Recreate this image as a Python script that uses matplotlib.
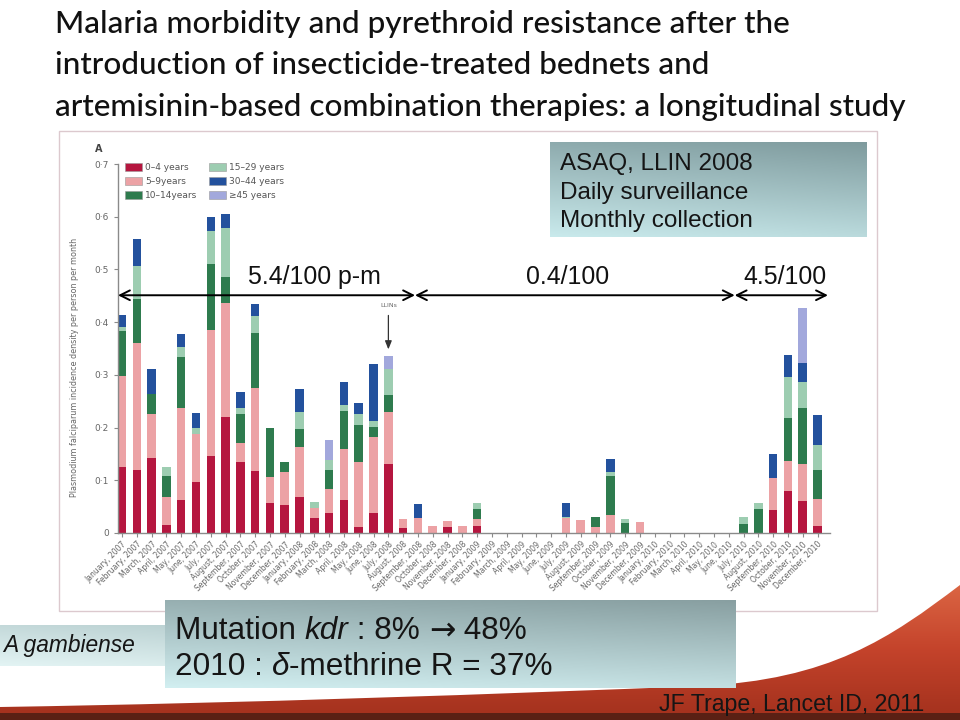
import numpy as np
import matplotlib
matplotlib.use("Agg")
import matplotlib.pyplot as plt
from matplotlib.colors import LinearSegmentedColormap
from matplotlib.patches import Rectangle, PathPatch
from matplotlib.path import Path

# ---------------- data ----------------
months = ["January", "February", "March", "April", "May", "June", "July",
          "August", "September", "October", "November", "December"]
years = [2007, 2008, 2009, 2010]
month_labels = [f"{m}, {y}" for y in years for m in months]

age_groups = ["0\u20134 years", "5\u20139years", "10\u201314years",
              "15\u201329 years", "30\u201344 years", "\u226545 years"]

age0_4 = [.125, .119, .142, .015, .062, .097, .147, .221, .135, .118, .057, .054,
          .068, .028, .038, .062, .012, .037, .131, .010, 0, 0, .011, 0,
          .013, 0, 0, 0, 0, 0, 0, 0, 0, 0, 0, 0,
          0, 0, 0, 0, 0, 0, 0, 0, .044, .080, .061, .013]
age5_9 = [.173, .242, .084, .053, .176, .091, .239, .215, .035, .158, .049, .062,
          .095, .019, .046, .098, .123, .146, .098, .016, .029, .014, .012, .014,
          .013, 0, 0, 0, 0, 0, .028, .025, .012, .035, 0, .020,
          0, 0, 0, 0, 0, 0, 0, 0, .061, .056, .069, .052]
age10_14 = [.086, .082, .038, .040, .095, 0, .125, .049, .056, .103, .093, .019,
            .035, 0, .036, .072, .069, .018, .033, 0, 0, 0, 0, 0,
            .019, 0, 0, 0, 0, 0, 0, 0, .019, .074, .019, 0,
            0, 0, 0, 0, 0, 0, .018, .045, 0, .082, .108, .054]
age15_29 = [.006, .063, 0, .017, .019, .012, .061, .093, .012, .032, 0, 0,
            .031, .012, .019, .011, .022, .012, .049, 0, 0, 0, 0, 0,
            .011, 0, 0, 0, 0, 0, .003, 0, 0, .007, .008, 0,
            0, 0, 0, 0, 0, 0, .012, .011, 0, .077, .048, .047]
age30_44 = [.023, .052, .048, 0, .025, .028, .027, .027, .029, .024, 0, 0,
            .044, 0, 0, .044, .020, .108, 0, 0, .026, 0, 0, 0,
            0, 0, 0, 0, 0, 0, .025, 0, 0, .025, 0, 0,
            0, 0, 0, 0, 0, 0, 0, 0, .044, .043, .037, .057]
age45 = [0, 0, 0, 0, 0, 0, 0, 0, 0, 0, 0, 0,
         0, 0, .038, 0, 0, 0, .025, 0, 0, 0, 0, 0,
         0, 0, 0, 0, 0, 0, 0, 0, 0, 0, 0, 0,
         0, 0, 0, 0, 0, 0, 0, 0, 0, 0, .103, 0]

series = [age0_4, age5_9, age10_14, age15_29, age30_44, age45]
colors = ["#b5163f", "#eca2a5", "#2e7b4e", "#9dcdb1", "#23519d", "#a2a8dc"]

yticks = [0, 0.1, 0.2, 0.3, 0.4, 0.5, 0.6, 0.7]
ytick_labels = ["0", "0\u00b71", "0\u00b72", "0\u00b73", "0\u00b74", "0\u00b75", "0\u00b76", "0\u00b77"]

period_labels = ["5.4/100 p-m", "0.4/100", "4.5/100"]
period_start = [-0.27, 19.8, 41.4]
period_end = [19.8, 41.4, 47.7]
period_label_x = [13.0, 30.1, 44.8]
llin_month = 18  # July 2008

# ---------------- figure ----------------
W, H = 960, 720
fig = plt.figure(figsize=(9.6, 7.2), dpi=100)
renderer = fig.canvas.get_renderer()
ARIAL = ["Liberation Sans", "DejaVu Sans"]
TITLEF = ["Lato", "Liberation Sans", "DejaVu Sans"]


def fit(t, target):
    w = t.get_window_extent(renderer).width
    t.set_fontsize(t.get_fontsize() * target / w)
    return t.get_fontsize()


bg = fig.add_axes([0, 0, 1, 1], zorder=0)
bg.set_xlim(0, W)
bg.set_ylim(H, 0)
bg.axis("off")

# red swoosh at the bottom
verts = [(0, 707), (250, 703), (500, 694), (700, 686),
         (830, 680), (890, 638), (960, 585),
         (960, 720), (0, 720), (0, 707)]
codes = [Path.MOVETO, Path.CURVE4, Path.CURVE4, Path.CURVE4,
         Path.CURVE4, Path.CURVE4, Path.CURVE4,
         Path.LINETO, Path.LINETO, Path.CLOSEPOLY]
sw = PathPatch(Path(verts, codes), facecolor="none", edgecolor="none")
bg.add_patch(sw)
red_cmap = LinearSegmentedColormap.from_list("r", ["#db6543", "#c4432b", "#a5321e"])
im = bg.imshow(np.linspace(0, 1, 256)[:, None], cmap=red_cmap, aspect="auto",
               extent=[0, W, 714, 585], zorder=1)
im.set_clip_path(sw)
bg.add_patch(Rectangle((0, 713), W, 7, facecolor="#5a2014", edgecolor="none", zorder=2))

# chart panel
bg.add_patch(Rectangle((58.5, 131), 818.5, 480, facecolor="white", edgecolor="#dcc9ce", lw=1.0, zorder=1))

# title
title_lines = ["Malaria morbidity and pyrethroid resistance after the",
               "introduction of insecticide-treated bednets and",
               "artemisinin-based combination therapies: a longitudinal study"]
tt = []
for i, line in enumerate(title_lines):
    tt.append(bg.text(55, 33 + i * 41.5, line, fontsize=21, family=TITLEF, fontweight="medium",
                      color="#111111", va="baseline", ha="left", zorder=3))
fs = fit(tt[0], 735)
for t in tt:
    t.set_fontsize(fs)

# ---------------- chart ----------------
ax = fig.add_axes([118 / W, 1 - 533 / H, (830 - 118) / W, (533 - 164) / H], zorder=2)
ax.patch.set_alpha(0)
x = np.arange(len(month_labels))
bottom = np.zeros(len(x))
for name, vals, c in zip(age_groups, series, colors):
    v = np.array(vals)
    ax.bar(x, v, bottom=bottom, width=0.58, color=c, label=name, zorder=2)
    bottom += v

ax.set_xlim(-0.27, 47.84)
ax.set_ylim(0, 0.7)
ax.set_yticks(yticks)
ax.set_yticklabels(ytick_labels, fontsize=6.5, color="#666666")
ax.set_xticks(x)
ax.set_xticklabels(month_labels, rotation=45, ha="right", rotation_mode="anchor",
                   fontsize=5.5, color="#666666")
for s in ["top", "right"]:
    ax.spines[s].set_visible(False)
for s in ["left", "bottom"]:
    ax.spines[s].set_color("#8a8a8a")
    ax.spines[s].set_linewidth(1.0)
ax.tick_params(axis="both", colors="#8a8a8a", length=3, width=0.8, labelcolor="#666666")
ax.tick_params(axis="x", pad=2)
ax.set_ylabel("Plasmodium falciparum incidence density per person per month",
              fontsize=5.8, color="#666666")
ax.yaxis.set_label_coords(-0.055, 0.45)

leg = fig.legend(loc="upper left", bbox_to_anchor=(117 / W, 1 - 155 / H), ncol=2, frameon=False,
                 fontsize=6.5, handlelength=1.9, handleheight=0.85, columnspacing=1.3,
                 labelspacing=0.55, handletextpad=0.3)
for t in leg.get_texts():
    t.set_color("#555555")
for p in leg.get_patches():
    p.set_edgecolor("#999999")
    p.set_linewidth(0.4)

bg.text(95, 149, "A", fontsize=7, fontweight="bold", color="#444444", zorder=3, va="center")

# period arrows
y_arrow = 0.451
plab = []
for label, x0, x1, xl in zip(period_labels, period_start, period_end, period_label_x):
    ax.annotate("", xy=(x1, y_arrow), xytext=(x0, y_arrow),
                arrowprops=dict(arrowstyle="<->,head_length=0.7,head_width=0.35",
                                color="black", lw=1.4, shrinkA=0, shrinkB=0),
                annotation_clip=False, zorder=5)
    plab.append(ax.text(xl, 0.472, label, ha="center", va="baseline",
                        fontsize=13, family=ARIAL, color="#111111", zorder=5))
fs = fit(plab[0], 132)
for t in plab:
    t.set_fontsize(fs)

# LLINs marker
ax.annotate("", xy=(llin_month, 0.343), xytext=(llin_month, 0.418),
            arrowprops=dict(arrowstyle="-|>,head_length=0.5,head_width=0.2", color="#333333", lw=0.9),
            zorder=5)
ax.text(llin_month, 0.426, "LLINs", ha="center", va="bottom", fontsize=4.5, color="#666666")


# ---------------- gradient boxes ----------------
def grad_box(x0, y0, x1, y1, c_top, c_bot, z=4):
    a = fig.add_axes([x0 / W, 1 - y1 / H, (x1 - x0) / W, (y1 - y0) / H], zorder=z)
    v = np.linspace(0, 1, 200)[:, None]
    h = np.linspace(0, 1, 300)[None, :]
    g = np.clip(0.8 * v + 0.2 * (1 - h), 0, 1)
    cm = LinearSegmentedColormap.from_list("g", [c_top, c_bot])
    a.imshow(g, cmap=cm, aspect="auto", extent=[0, 1, 0, 1], vmin=0, vmax=1)
    a.axis("off")
    return a


grad_box(550, 142, 867, 237, "#7f9b9e", "#c9eaec")
grad_box(0, 625, 166, 666, "#bcd2d3", "#e3f4f4", z=4)
grad_box(165, 600, 736, 688, "#889fa1", "#d2eff1", z=5)

top = fig.add_axes([0, 0, 1, 1], zorder=10)
top.set_xlim(0, W)
top.set_ylim(H, 0)
top.axis("off")

box_lines = ["ASAQ, LLIN 2008", "Daily surveillance", "Monthly collection"]
bl = [top.text(560, 170 + i * 28.5, t, fontsize=16, family=ARIAL, color="#151515", va="baseline")
      for i, t in enumerate(box_lines)]
fs = fit(bl[0], 193)
for t in bl:
    t.set_fontsize(fs)

ag = top.text(3, 652, "A gambiense", fontsize=16, family=ARIAL, style="italic",
              color="#151515", va="baseline")
fit(ag, 132)


def to_x(px):
    return top.transData.inverted().transform((px, 0))[0]


def run(pieces, x0, yb, size):
    xx = x0
    out = []
    for s, st, fam in pieces:
        t = top.text(xx, yb, s, fontsize=size, family=fam, style=st, color="#151515",
                     va="baseline")
        bb = t.get_window_extent(renderer)
        xx = to_x(bb.x1)
        out.append(t)
    return xx, out


DV = ["DejaVu Sans"]
line1 = [("Mutation ", "normal", ARIAL), ("kdr", "italic", ARIAL), (" : 8% ", "normal", ARIAL),
         ("\u2192", "normal", DV), (" 48%", "normal", ARIAL)]
line2 = [("2010 : ", "normal", ARIAL), ("\u03b4", "italic", ARIAL),
         ("-methrine R = 37%", "normal", ARIAL)]
end1, o1 = run(line1, 175, 639, 22)
for t in o1:
    t.remove()
size1 = 22 * 352 / (end1 - 175)
run(line1, 175, 639, size1)
run(line2, 175, 675, size1)

jf = top.text(924, 711, "JF Trape, Lancet ID, 2011", fontsize=17, family=ARIAL,
              color="#151515", va="baseline", ha="right")
fit(jf, 266)

fig.savefig("out.png", dpi=100)
